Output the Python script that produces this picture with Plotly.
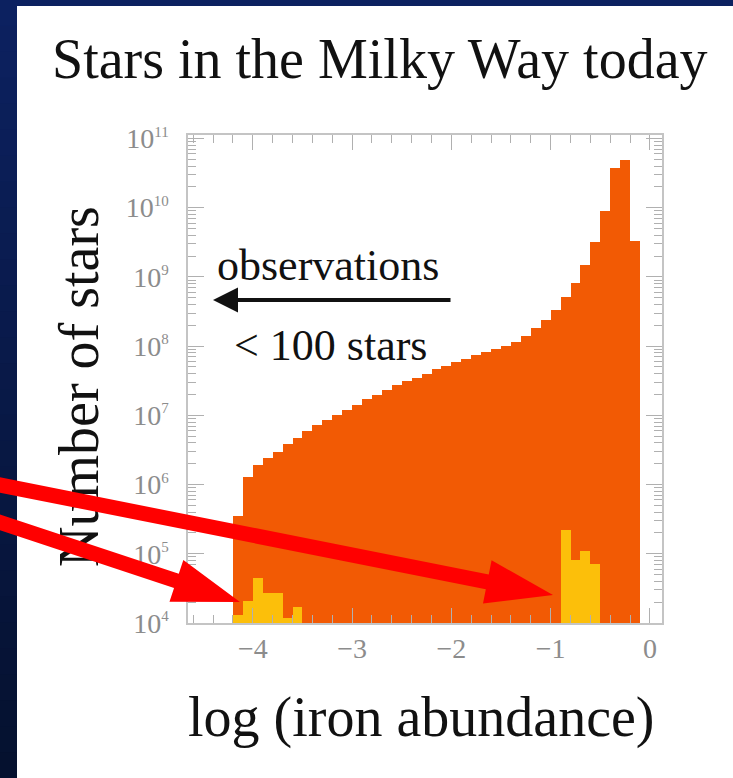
import plotly.graph_objects as go

W, H = 733, 778

# log(iron abundance) bin centres, 0.1 dex wide
feh_all = [round(-4.15 + 0.1 * i, 2) for i in range(41)]
# number of stars in the Galaxy per bin (model)
n_all = [3.5e5, 1.3e6, 1.9e6, 2.4e6, 3.0e6, 3.8e6, 4.7e6, 5.9e6, 7.2e6, 8.7e6,
         1.0e7, 1.2e7, 1.4e7, 1.7e7, 2.0e7, 2.3e7, 2.7e7, 3.1e7, 3.5e7, 4.0e7,
         4.6e7, 5.2e7, 5.9e7, 6.6e7, 7.4e7, 8.3e7, 9.1e7, 1.0e8, 1.15e8, 1.4e8,
         1.8e8, 2.4e8, 3.3e8, 5.1e8, 8.3e8, 1.5e9, 3.2e9, 8.9e9, 3.7e10, 4.9e10,
         3.3e9]

# observed metal-poor stars
feh_obs_poor = [-4.15, -4.05, -3.95, -3.85, -3.75, -3.65, -3.55]
n_obs_poor = [1.3e4, 2.1e4, 4.4e4, 2.7e4, 2.7e4, 1.2e4, 1.7e4]

# observed disk stars
feh_obs_disk = [-0.85, -0.75, -0.65, -0.55]
n_obs_disk = [2.2e5, 8.0e4, 1.08e5, 7.2e4]

x_ticks = [-4, -3, -2, -1, 0]
y_exps = [4, 5, 6, 7, 8, 9, 10, 11]

ORANGE = "#f25a04"
YELLOW = "#fcbf0a"
GREY = "#8c8c8c"
SERIF = "Liberation Serif"


def fx(px):
    return px / W


def fy(py):
    return 1 - py / H


fig = go.Figure()
fig.add_trace(go.Bar(x=feh_all, y=n_all, width=0.1, marker=dict(color=ORANGE, line=dict(width=0)),
                     showlegend=False))
fig.add_trace(go.Bar(x=feh_obs_poor, y=n_obs_poor, width=0.1, marker=dict(color=YELLOW, line=dict(width=0)),
                     showlegend=False))
fig.add_trace(go.Bar(x=feh_obs_disk, y=n_obs_disk, width=0.1, marker=dict(color=YELLOW, line=dict(width=0)),
                     showlegend=False))

minor_y = [m * 10 ** e for e in range(4, 11) for m in range(2, 10)]

axis_common = dict(showline=True, linecolor="#c4c4c4", linewidth=1.5, mirror="allticks",
                   ticks="inside", tickcolor="#b0b0b0", tickwidth=1.2,
                   showgrid=False, zeroline=False, automargin=False,
                   tickfont=dict(family=SERIF, size=28, color=GREY))

fig.update_xaxes(range=[-4.653, 0.121], domain=[fx(188), fx(662)],
                 tickmode="array", tickvals=x_ticks, ticktext=["\u2212%d" % -v if v else "0" for v in x_ticks],
                 ticklen=15, ticklabelstandoff=0,
                 minor=dict(ticks="inside", dtick=0.2, tick0=0, ticklen=8, tickcolor="#b0b0b0", showgrid=False),
                 **axis_common)
fig.update_yaxes(type="log", range=[4, 11.05], domain=[fy(623), fy(135)],
                 tickmode="array", tickvals=[10 ** e for e in y_exps],
                 ticktext=["10<sup><span style='font-size:15px'>%d</span></sup>" % e for e in y_exps],
                 ticklen=16, ticklabelstandoff=12,
                 minor=dict(ticks="inside", tickmode="array", tickvals=minor_y, ticklen=8,
                            tickcolor="#b0b0b0", showgrid=False),
                 **axis_common)


def arrow_path(start, tip, shaft_w, head_len, head_w):
    (x0, y0), (x1, y1) = start, tip
    dx, dy = x1 - x0, y1 - y0
    L = (dx * dx + dy * dy) ** 0.5
    ux, uy = dx / L, dy / L
    nx, ny = -uy, ux
    bx, by = x1 - ux * head_len, y1 - uy * head_len
    pts = [(x0 + nx * shaft_w / 2, y0 + ny * shaft_w / 2),
           (bx + nx * shaft_w / 2, by + ny * shaft_w / 2),
           (bx + nx * head_w / 2, by + ny * head_w / 2),
           (x1, y1),
           (bx - nx * head_w / 2, by - ny * head_w / 2),
           (bx - nx * shaft_w / 2, by - ny * shaft_w / 2),
           (x0 - nx * shaft_w / 2, y0 - ny * shaft_w / 2)]
    return "M " + " L ".join("%.5f,%.5f" % (fx(px), fy(py)) for px, py in pts) + " Z"


shapes = []
# slide background: navy border strips (vertical gradient on the left edge)
n_band = 30
for i in range(n_band):
    t = i / (n_band - 1)
    r = int(round(12 + (5 - 12) * t))
    g = int(round(33 + (17 - 33) * t))
    b = int(round(96 + (47 - 96) * t))
    shapes.append(dict(type="rect", xref="paper", yref="paper", layer="below",
                       x0=0, x1=fx(17), y0=max(0, fy(H * (i + 1) / n_band + 2)), y1=fy(H * i / n_band),
                       fillcolor="rgb(%d,%d,%d)" % (r, g, b), line=dict(width=0)))
shapes.append(dict(type="rect", xref="paper", yref="paper", layer="below",
                   x0=0, x1=1, y0=fy(6), y1=1, fillcolor="rgb(12,33,96)", line=dict(width=0)))

# y-axis label (drawn as a shape label so the red arrows can sit on top of it)
shapes.append(dict(type="rect", xref="paper", yref="paper", layer="above",
                   x0=fx(45), x1=fx(101), y0=fy(570), y1=fy(203),
                   fillcolor="rgba(0,0,0,0)", line=dict(width=0),
                   label=dict(text="Number of stars", textangle=-90, textposition="middle center",
                              font=dict(family=SERIF, size=56, color="#111111"))))

# red pointer arrows to the observed samples
for start, tip in [((-10, 483), (553, 595)), ((-10, 519), (240, 602))]:
    shapes.append(dict(type="path", xref="paper", yref="paper", layer="above",
                       path=arrow_path(start, tip, 15, 67, 44),
                       fillcolor="#ff0000", line=dict(width=0)))

txt = dict(xref="paper", yref="paper", showarrow=False, xanchor="center", yanchor="middle")
annotations = [
    dict(text="Stars in the Milky Way today", x=fx(380), y=fy(59),
         font=dict(family=SERIF, size=56, color="#111111"), **txt),
    dict(text="log (iron abundance)", x=fx(421), y=fy(717),
         font=dict(family=SERIF, size=56, color="#111111"), **txt),
    dict(text="observations", x=fx(328), y=fy(266),
         font=dict(family=SERIF, size=44, color="#111111"), **txt),
    dict(text="< 100 stars", x=fx(330), y=fy(345),
         font=dict(family=SERIF, size=44, color="#111111"), **txt),
    dict(text="", xref="paper", yref="paper", x=fx(213), y=fy(300),
         ax=239, ay=0, axref="pixel", ayref="pixel", showarrow=True,
         arrowhead=2, arrowsize=1.25, arrowwidth=4, arrowcolor="#111111", standoff=0),
]

fig.update_layout(width=W, height=H, margin=dict(l=0, r=0, t=0, b=0, autoexpand=False),
                  paper_bgcolor="white", plot_bgcolor="white",
                  barmode="overlay", bargap=0, shapes=shapes, annotations=annotations,
                  showlegend=False)

fig.write_html("out.html")
